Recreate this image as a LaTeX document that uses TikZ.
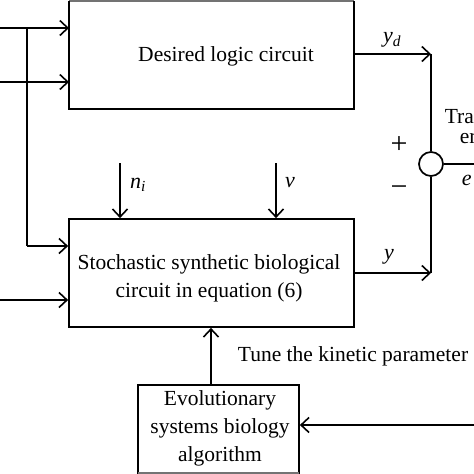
\documentclass[tikz,border=0pt]{standalone}
\usepackage{fontspec}
\setmainfont{Liberation Serif}
\usetikzlibrary{arrows.meta}
\begin{document}
\begin{tikzpicture}[x=1pt,y=-1pt,
  line width=1.7pt,
  arr/.style={-{Straight Barb[length=8pt,width=15pt,line width=1.6pt]}},
  blk/.style={draw,line width=1.7pt},
  txt/.style={font=\fontsize{21.5}{28}\selectfont,align=center,inner sep=0pt},
  lbl/.style={font=\fontsize{22}{28}\selectfont\itshape,inner sep=0pt}]
\useasboundingbox (0,0) rectangle (474,474);
\clip (0,0) rectangle (474,474);
% boxes
\draw[blk,draw=black!55,line width=2.5pt] (69,0.8) -- (354,0.8);
\draw[blk] (69,0.6) -- (69,109) -- (354,109) -- (354,0.6);
\node[txt] (desired) at (226,56) {Desired logic circuit};
\node[blk,minimum width=285pt,minimum height=108pt,inner sep=0pt] (stoch) at (211.5,273) {};
\node[txt] (stochtxt) at (209,278) {Stochastic synthetic biological\\circuit in equation (6)};
\node[blk,minimum width=161pt,minimum height=100pt,inner sep=0pt] (evol) at (218.5,435) {};
\node[txt] (evoltxt) at (220,428) {Evolutionary\\systems biology\\algorithm};
\draw[blk,draw=black!55,line width=2.5pt] (138,472.8) -- (299,472.8);
% summing junction
\node[draw,circle,minimum size=24pt,inner sep=0pt,line width=1.7pt] (sum) at (431,164) {};
% coordinates
\coordinate (in1) at (0,28);
\coordinate (in2) at (0,82);
\coordinate (in3) at (0,300);
\coordinate (br) at (27,28);
\coordinate (brlow) at (27,246);
\coordinate (top1) at (69,28);
\coordinate (top2) at (69,82);
\coordinate (yd0) at (354,54);
\coordinate (yd1) at (431,54);
\coordinate (y0) at (354,273);
\coordinate (y1) at (431,273);
\coordinate (eout) at (480,164);
\coordinate (fbin) at (480,425);
\coordinate (ni0) at (120,163);
\coordinate (v0) at (276,163);
% inputs
\draw[arr] (in1) -- (top1);
\draw[arr] (in2) -- (top2);
\draw (br) -- (brlow);
\draw[arr] (brlow) -- (stoch.west |- brlow);
\draw[arr] (in3) -- (stoch.west |- in3);
\draw[arr] (ni0) -- (stoch.north -| ni0);
\draw[arr] (v0) -- (stoch.north -| v0);
% outputs
\draw[arr] (yd0) -- (yd1);
\draw (yd1) -- (sum.north);
\draw[arr] (y0) -- (y1);
\draw (y1) -- (sum.south);
\draw (sum.east) -- (eout);
% feedback
\draw[arr] (evol.north -| 211,0) -- (stoch.south -| 211,0);
\draw[arr] (fbin) -- (evol.east |- fbin);
% labels
\node[lbl] (nil) at (138,185) {n\textsubscript{i}};
\node[lbl] (vl) at (290,183) {ν};
\node[lbl] (ydl) at (392,40) {y\textsubscript{d}};
\node[lbl] (yl) at (389,257) {y};
\node[lbl,anchor=west] (el) at (461,180) {e};
\node[font=\fontsize{30}{30}\selectfont,inner sep=0pt] (plus) at (399,145) {+};
\node[font=\fontsize{30}{30}\selectfont,inner sep=0pt] (minus) at (399,191) {−};
\node[txt,anchor=west] (tr1) at (444,118) {Tracking};
\node[txt,anchor=west] (tr2) at (459,139) {error};
\node[txt] (tune) at (353,356) {Tune the kinetic parameter};
\end{tikzpicture}
\end{document}
